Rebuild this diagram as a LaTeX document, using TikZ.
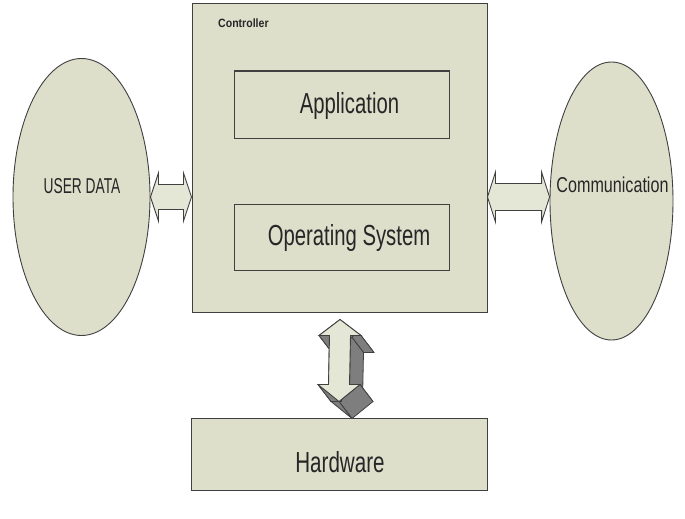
\documentclass[tikz,border=0pt]{standalone}
\usepackage{fontspec}
\setmainfont{Liberation Sans}
\usetikzlibrary{shapes.geometric,calc}
\definecolor{boxfill}{HTML}{DDDFCB}
\definecolor{arrfill}{HTML}{E5E7D6}
\definecolor{darkface}{HTML}{7E7E7E}
\definecolor{edge}{HTML}{404040}
\newcommand{\nar}[2]{\scalebox{#1}[1]{#2}}
\tikzset{
  box/.style={draw=edge, fill=boxfill, line width=1pt, inner sep=0pt},
  oval/.style={ellipse, draw=edge, fill=boxfill, line width=0.9pt, inner sep=0pt},
  blockarrow/.style={draw=edge, fill=arrfill, line width=0.9pt, line join=miter},
  sideface/.style={draw=edge, fill=darkface, line width=0.8pt, line join=round},
  frontface/.style={draw=edge, fill=arrfill, line width=0.9pt, line join=miter},
  bigtxt/.style={font=\fontsize{29}{34}\selectfont, text=black!85, inner sep=0pt, anchor=base},
  midtxt/.style={font=\fontsize{21.5}{26}\selectfont, text=black!85, inner sep=0pt, anchor=base},
}
\begin{document}
\begin{tikzpicture}[x=1pt,y=-1pt]
\useasboundingbox (0,0) rectangle (685,519);
\fill[white] (0,0) rectangle (685,519);
% main shapes
\node[box, minimum width=295pt, minimum height=308pt] (ctrl) at (339.5,158) {};
\node[box, minimum width=215pt, minimum height=67pt] (app) at (341.5,104.5) {};
\node[box, minimum width=215pt, minimum height=66pt] (os) at (341.5,237) {};
\node[box, minimum width=296pt, minimum height=72pt] (hw) at (339,454) {};
\node[oval, minimum width=137pt, minimum height=277pt] (ud) at (81.5,197) {};
\node[oval, minimum width=123pt, minimum height=278pt] (comm) at (611.5,201) {};
% texts
\node[font=\bfseries\fontsize{12}{14}\selectfont, text=black!85, inner sep=0pt, anchor=base west] (ctrlt) at ($(ctrl.north west)+(26.5,24)$) {\nar{0.88}{Controller}};
\node[bigtxt] (appt) at (349.5,113) {\nar{0.7}{Application}};
\node[bigtxt] (ost) at (349,245.5) {\nar{0.7}{Operating System}};
\node[bigtxt] (hwt) at (340,472) {\nar{0.71}{Hardware}};
\node[midtxt] (udt) at (82,193) {\nar{0.64}{USER DATA}};
\node[midtxt] (commt) at (612.5,192) {\nar{0.75}{Communication}};
% horizontal block arrows
\coordinate (la) at (ud.east);
\coordinate (lb) at (ctrl.west |- ud.east);
\draw[blockarrow] (la) -- ($(la)+(8,-24)$) -- ($(la)+(8,-12.5)$) -- ($(lb)+(-8,-12.5)$) -- ($(lb)+(-8,-24)$) -- (lb)
  -- ($(lb)+(-8,24)$) -- ($(lb)+(-8,12.5)$) -- ($(la)+(8,12.5)$) -- ($(la)+(8,24)$) -- cycle;
\coordinate (ra) at (ctrl.east |- 0,197);
\coordinate (rb) at (comm.west |- ra);
\draw[blockarrow] (ra) -- ($(ra)+(8,-25)$) -- ($(ra)+(8,-13.5)$) -- ($(rb)+(-8,-13.5)$) -- ($(rb)+(-8,-25)$) -- (rb)
  -- ($(rb)+(-8,25)$) -- ($(rb)+(-8,13.5)$) -- ($(ra)+(8,13.5)$) -- ($(ra)+(8,25)$) -- cycle;
% vertical 3D block arrow
\coordinate (vt) at ($(ctrl.south)+(0.5,7)$);
\coordinate (vb) at ($(hw.north)+(0,-16)$);
\coordinate (p1) at (vt);
\coordinate (p2) at ($(vt)+(21,16)$);
\coordinate (p3) at ($(vt)+(10.5,16)$);
\coordinate (p4) at ($(vb)+(10.5,-17)$);
\coordinate (p5) at ($(vb)+(21,-17)$);
\coordinate (p6) at (vb);
\coordinate (p7) at ($(vb)+(-21,-17)$);
\coordinate (p8) at ($(vb)+(-10.5,-17)$);
\coordinate (p9) at ($(vt)+(-10.5,16)$);
\coordinate (p10) at ($(vt)+(-21,16)$);
\foreach \a/\b in {p1/p2,p2/p3,p3/p4,p4/p5,p5/p6,p6/p7,p7/p8,p8/p9,p9/p10,p10/p1}
  \filldraw[sideface] (\a) -- (\b) -- ($(\b)+(13,17)$) -- ($(\a)+(13,17)$) -- cycle;
\draw[frontface] (p1) -- (p2) -- (p3) -- (p4) -- (p5) -- (p6) -- (p7) -- (p8) -- (p9) -- (p10) -- cycle;
\end{tikzpicture}
\end{document}
